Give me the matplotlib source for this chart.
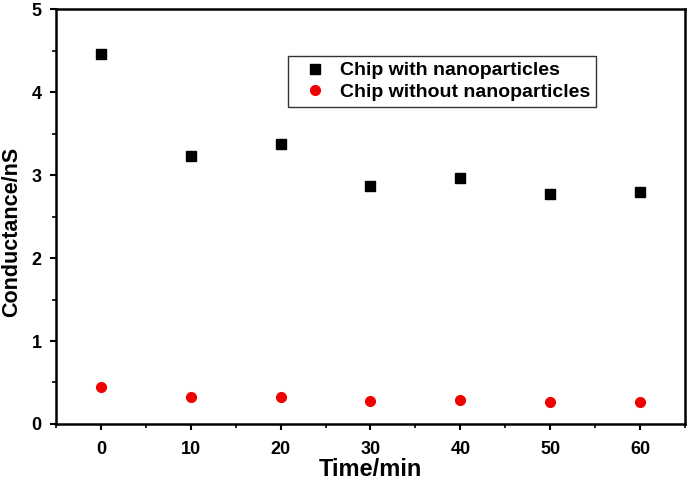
import matplotlib
matplotlib.use("Agg")
import matplotlib.pyplot as plt
from matplotlib.ticker import MultipleLocator

time_min = [0, 10, 20, 30, 40, 50, 60]
with_np = [4.46, 3.23, 3.38, 2.87, 2.97, 2.77, 2.79]
without_np = [0.44, 0.32, 0.33, 0.28, 0.29, 0.27, 0.27]

plt.rcParams['font.family'] = ['Liberation Sans', 'DejaVu Sans']
plt.rcParams['font.weight'] = 'bold'

fig = plt.figure(figsize=(6.87, 4.8), dpi=100)
ax = fig.add_axes([0.0815, 0.1167, 0.9155, 0.8643])

ax.plot(time_min, with_np, linestyle='none', marker='s', color='black',
        markersize=6.5, label='Chip with nanoparticles')
ax.plot(time_min, without_np, linestyle='none', marker='o', color='#f00000',
        markersize=7, label='Chip without nanoparticles')

ax.set_xlim(-5, 65)
ax.set_ylim(0, 5)
ax.xaxis.set_major_locator(MultipleLocator(10))
ax.xaxis.set_minor_locator(MultipleLocator(5))
ax.yaxis.set_major_locator(MultipleLocator(1))
ax.yaxis.set_minor_locator(MultipleLocator(0.5))
ax.tick_params(which='major', direction='out', length=4.5, width=1.5, labelsize=13)
ax.tick_params(axis='x', which='major', pad=8)
ax.tick_params(axis='y', which='major', pad=6)
ax.tick_params(which='minor', direction='out', length=3, width=1.2)
ax.tick_params(axis='both', which='both', top=False, right=False)
for lab in ax.get_xticklabels() + ax.get_yticklabels():
    lab.set_fontweight('bold')
for s in ax.spines.values():
    s.set_linewidth(1.8)

ax.set_xlabel('Time/min', fontsize=17, fontweight='bold', labelpad=0)
ax.set_ylabel('Conductance/nS', fontsize=15.5, fontweight='bold')
ax.yaxis.set_label_coords(-0.054, 0.463)

leg = ax.legend(loc='upper left', bbox_to_anchor=(0.369, 0.887), fontsize=14,
                frameon=True, fancybox=False, edgecolor='black',
                borderpad=0.3, handletextpad=0.15, labelspacing=0.2,
                handlelength=2.2, borderaxespad=0)
leg.get_frame().set_linewidth(1.0)
for t in leg.get_texts():
    t.set_fontweight('bold')

fig.savefig('out.png', dpi=100)
